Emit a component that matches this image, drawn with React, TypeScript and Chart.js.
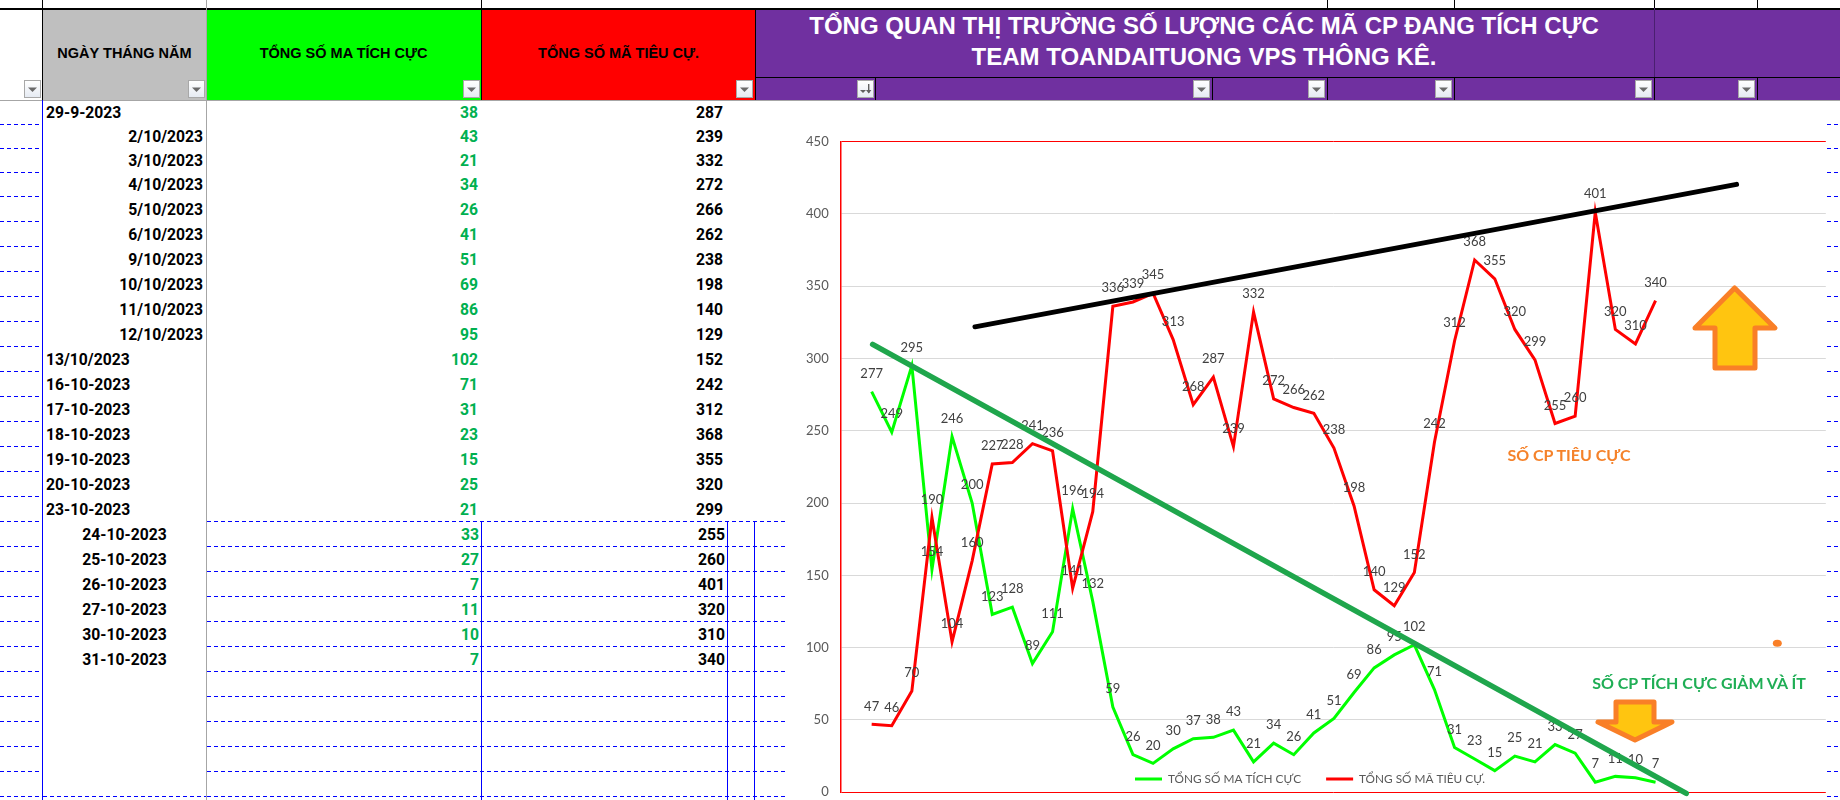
import React, { useEffect, useRef } from "react";
import { Chart, registerables } from "chart.js";

Chart.register(...registerables);

const positiveLabel = "TỔNG SỐ MA TÍCH CỰC";
const negativeLabel = "TỔNG SỐ MÃ TIÊU CỰ.";
const positiveValues = [277, 249, 295, 154, 246, 200, 123, 128, 89, 111, 196, 132, 59, 26, 20, 30, 37, 38, 43, 21, 34, 26, 41, 51, 69, 86, 95, 102, 71, 31, 23, 15, 25, 21, 33, 27, 7, 11, 10, 7];
const negativeValues = [47, 46, 70, 190, 104, 160, 227, 228, 241, 236, 141, 194, 336, 339, 345, 313, 268, 287, 239, 332, 272, 266, 262, 238, 198, 140, 129, 152, 242, 312, 368, 355, 320, 299, 255, 260, 401, 320, 310, 340];
const resistanceLine = [{ x: 5.14, y: 321.8 }, { x: 43.03, y: 420.3 }];
const declineLine = [{ x: 0.05, y: 309.7 }, { x: 40.53, y: -0.7 }];
const yTicksMax = 450;

// Table rows: the visible sheet shows the last 23 points of the series
const rowDates = ["29-9-2023", "2/10/2023", "3/10/2023", "4/10/2023", "5/10/2023", "6/10/2023", "9/10/2023", "10/10/2023", "11/10/2023", "12/10/2023", "13/10/2023", "16-10-2023", "17-10-2023", "18-10-2023", "19-10-2023", "20-10-2023", "23-10-2023", "24-10-2023", "25-10-2023", "26-10-2023", "27-10-2023", "30-10-2023", "31-10-2023"];
const rowDateAlign = ["l", "r", "r", "r", "r", "r", "r", "r", "r", "r", "l", "l", "l", "l", "l", "l", "l", "c", "c", "c", "c", "c", "c"];
const rowPositive = [38, 43, 21, 34, 26, 41, 51, 69, 86, 95, 102, 71, 31, 23, 15, 25, 21, 33, 27, 7, 11, 10, 7];
const rowNegative = [287, 239, 332, 272, 266, 262, 238, 198, 140, 129, 152, 242, 312, 368, 355, 320, 299, 255, 260, 401, 320, 310, 340];
const rowLines = [124.5, 148.5, 172.5, 196.5, 221.5, 246.5, 271.5, 296.5, 321.5, 346.5, 371.5, 396.5, 421.5, 446.5, 471.5, 496.5, 521.5, 546.5, 571.5, 596.5, 621.5, 646.5, 671.5, 696.5, 721.5, 746.5, 771.5, 796.5];

const titleLines = ["TỔNG QUAN THỊ TRƯỜNG SỐ LƯỢNG CÁC MÃ CP ĐANG TÍCH CỰC", "TEAM TOANDAITUONG VPS THÔNG KÊ."];
const noteNegative = "SỐ CP TIÊU CỰC";
const notePositive = "SỐ CP TÍCH CỰC GIẢM VÀ ÍT";

const filterButtons = [23.5, 188, 463, 736, 857, 1192.5, 1308, 1435, 1635, 1738];
const SORTED_BUTTON = 857;

const sheetFont = '"Liberation Sans", Arial, sans-serif';
const rowFont = 'Roboto, "Liberation Sans", sans-serif';
const chartFont = 'Lato, "Noto Sans", sans-serif';
const BLUE = "#0000ff";

function box(l: number, t: number, w: number, h: number, bg: string): React.CSSProperties {
  return { position: "absolute", left: l, top: t, width: w, height: h, background: bg };
}

function DashedLine({ l, r, y }: { l: number; r: number; y: number }) {
  return (
    <div
      style={{
        position: "absolute",
        left: l,
        top: Math.floor(y),
        width: r - l,
        height: 1,
        background: `repeating-linear-gradient(90deg, ${BLUE} 0 4px, transparent 4px 7px)`,
      }}
    />
  );
}

function FilterButton({ x }: { x: number }) {
  const sorted = x === SORTED_BUTTON;
  return (
    <div
      style={{
        position: "absolute",
        left: x,
        top: 80,
        width: 17,
        height: 18,
        boxSizing: "border-box",
        border: "1px solid #a8a8a8",
        background: "linear-gradient(#ffffff, #e6ebf3)",
      }}
    >
      <svg width="15" height="16" style={{ position: "absolute", left: 0, top: 0 }}>
        {sorted ? (
          <g fill="#606060">
            <path d="M2 9 H8 L5 12 Z" />
            <rect x="10" y="3" width="1.4" height="9" />
            <path d="M8 9 H13.4 L10.7 12.5 Z" />
          </g>
        ) : (
          <path d="M3 6.5 H12 L7.5 11 Z" fill="#6a6a6a" />
        )}
      </svg>
    </div>
  );
}

function Arrow({ points }: { points: string }) {
  return <polygon points={points} fill="#FFC510" stroke="#F97F27" strokeWidth={5} strokeLinejoin="round" />;
}

const dataLabelsPlugin = {
  id: "pointValueLabels",
  afterDatasetDraw(chart: any, args: any) {
    if (args.index !== 1) return;
    const { ctx } = chart;
    ctx.save();
    ctx.font = `13px ${chartFont}`;
    ctx.fillStyle = "#404040";
    ctx.textAlign = "center";
    ctx.textBaseline = "middle";
    [0, 1].forEach((ds) => {
      const values = chart.data.datasets[ds].data;
      chart.getDatasetMeta(ds).data.forEach((pt: any, i: number) => {
        ctx.fillText(String(values[i].y), pt.x, pt.y - 18);
      });
    });
    ctx.restore();
  },
};

const legendPlacementPlugin = {
  id: "legendInsidePlot",
  beforeLayout(chart: any) {
    const legend = chart.legend;
    if (legend && !legend.__patched) {
      const fit = legend.fit;
      legend.fit = function () {
        fit.call(this);
        this.height = 0;
      };
      legend.__patched = true;
    }
  },
  afterLayout(chart: any) {
    const legend = chart.legend;
    const pad = legend.options.labels.padding;
    legend.left = 345 - pad;
    legend.right = legend.left + 600;
    legend.top = 669 - pad - 6;
    legend.bottom = legend.top + 60;
  },
};

function LineChart() {
  const ref = useRef<HTMLCanvasElement | null>(null);
  useEffect(() => {
    if (!ref.current) return;
    const chart = new Chart(ref.current, {
      type: "line",
      data: {
        datasets: [
          {
            label: positiveLabel,
            data: positiveValues.map((y, x) => ({ x, y })),
            borderColor: "#00ff00",
            backgroundColor: "#00ff00",
            borderWidth: 3,
            pointRadius: 0,
            tension: 0,
            order: 2,
          },
          {
            label: negativeLabel,
            data: negativeValues.map((y, x) => ({ x, y })),
            borderColor: "#ff0000",
            backgroundColor: "#ff0000",
            borderWidth: 3,
            pointRadius: 0,
            tension: 0,
            order: 1,
          },
          {
            label: "resistance",
            data: resistanceLine,
            borderColor: "#000000",
            borderWidth: 5,
            pointRadius: 0,
            borderCapStyle: "round",
            clip: false,
            order: 0,
          },
          {
            label: "decline",
            data: declineLine,
            borderColor: "#1fa64c",
            borderWidth: 5.5,
            pointRadius: 0,
            borderCapStyle: "round",
            clip: false,
            order: 0,
          },
        ],
      } as any,
      options: {
        animation: false,
        responsive: false,
        maintainAspectRatio: false,
        parsing: false,
        normalized: true,
        layout: { padding: { top: 31.4, bottom: 7.7, left: 0, right: 14.2 } },
        scales: {
          x: { type: "linear", display: false, min: -1.54, max: 47.47, grid: { display: false } },
          y: {
            min: 0,
            max: yTicksMax,
            afterFit: (s: any) => {
              s.width = 50.7;
              s.paddingTop = 0;
              s.paddingBottom = 0;
            },
            ticks: {
              stepSize: 50,
              padding: 12,
              color: "#595959",
              font: { family: chartFont, size: 13 },
            },
            border: { color: "#ff0000", width: 1.5 },
            grid: {
              drawTicks: false,
              lineWidth: 1,
              color: (c: any) => (c.tick.value === 0 || c.tick.value === yTicksMax ? "#ff0000" : "#d9d9d9"),
            },
          },
        },
        plugins: {
          tooltip: { enabled: false },
          title: { display: false },
          legend: {
            display: true,
            position: "bottom",
            align: "start",
            labels: {
              boxWidth: 27,
              boxHeight: 0,
              padding: 25,
              color: "#595959",
              font: { family: chartFont, size: 11.8 },
              filter: (item: any) => item.datasetIndex < 2,
              sort: (a: any, b: any) => a.datasetIndex - b.datasetIndex,
            },
          },
        },
      } as any,
      plugins: [dataLabelsPlugin, legendPlacementPlugin],
    });
    return () => chart.destroy();
  }, []);
  return <canvas ref={ref} width={1050} height={690} style={{ position: "absolute", left: 790, top: 110, width: 1050, height: 690 }} />;
}

const rowTop = (i: number) => (i === 0 ? 100.5 : rowLines[i - 1]);

export default function App() {
  const headerCell = (cx: number): React.CSSProperties => ({
    position: "absolute",
    left: cx - 120,
    width: 240,
    top: 45,
    textAlign: "center",
    font: `bold 14.5px ${sheetFont}`,
    color: "#000",
    whiteSpace: "nowrap",
  });
  const cell = (i: number): React.CSSProperties => ({
    position: "absolute",
    top: rowTop(i) + 0.7,
    height: rowLines[i] - rowTop(i),
    font: `bold 15.7px ${rowFont}`,
    lineHeight: `${rowLines[i] - rowTop(i)}px`,
    whiteSpace: "nowrap",
  });
  const lowerRow = (i: number) => i >= 17;

  return (
    <div style={{ position: "fixed", left: 0, top: 0, width: 1840, height: 800, overflow: "hidden", background: "#fff" }}>
      {/* header fills */}
      <div style={box(42, 8, 165, 92, "#bfbfbf")} />
      <div style={box(207, 8, 275, 92, "#00ff00")} />
      <div style={box(482, 8, 273, 92, "#ff0000")} />
      <div style={box(755, 8, 1085, 92, "#7030a0")} />
      {/* header rules */}
      <div style={box(0, 7.5, 1840, 2, "#000")} />
      <div style={box(755, 76.5, 1085, 1.5, "#000")} />
      <div style={box(0, 99.5, 1840, 1.5, "#a6a6a6")} />
      <div style={box(42, 0, 1.2, 100, "#000")} />
      <div style={box(206, 0, 1.2, 800, "#a6a6a6")} />
      <div style={box(481, 0, 1.2, 100, "#000")} />
      <div style={box(754.5, 8, 1.2, 92, "#000")} />
      <div style={box(1653.5, 8, 1, 70, "#4a2070")} />
      {[875, 1211.5, 1327, 1453.5, 1653.5, 1756.5].map((x) => (
        <div key={x} style={box(x, 77, 1.2, 23, "#000")} />
      ))}
      {[1327, 1453.5, 1653.5, 1756.5].map((x) => (
        <div key={x} style={box(x, 0, 1.2, 8, "#000")} />
      ))}
      {/* header texts */}
      <div style={headerCell(124.5)}>NGÀY THÁNG NĂM</div>
      <div style={headerCell(343.6)}>{positiveLabel}</div>
      <div style={headerCell(618.6)}>{negativeLabel}</div>
      {titleLines.map((t, i) => (
        <div
          key={t}
          style={{
            position: "absolute",
            left: 755,
            width: 898,
            top: i === 0 ? 12 : 43,
            textAlign: "center",
            color: "#fff",
            font: `bold 24px ${sheetFont}`,
            whiteSpace: "nowrap",
          }}
        >
          {t}
        </div>
      ))}
      {filterButtons.map((x) => (
        <FilterButton key={x} x={x} />
      ))}

      {/* grid of the sheet */}
      <div style={box(42, 100, 1.2, 700, BLUE)} />
      {[481, 727, 754].map((x) => (
        <div key={x} style={box(x, 521.5, 1, 279, BLUE)} />
      ))}
      {rowLines.map((y) => (
        <React.Fragment key={y}>
          <DashedLine l={0} r={41} y={y} />
          {y > 520 && <DashedLine l={207} r={788} y={y} />}
          <DashedLine l={1827} r={1840} y={y} />
        </React.Fragment>
      ))}
      <DashedLine l={43} r={206} y={796.5} />

      {/* rows */}
      {rowDates.map((d, i) => {
        const a = rowDateAlign[i];
        const pos: React.CSSProperties =
          a === "l"
            ? { left: 46 }
            : a === "r"
            ? { right: 1840 - 203 }
            : { left: 42, width: 165, textAlign: "center" };
        return (
          <div key={d} style={{ ...cell(i), ...pos, color: "#000" }}>
            {d}
          </div>
        );
      })}
      {rowPositive.map((v, i) => (
        <div key={i} style={{ ...cell(i), right: 1840 - (lowerRow(i) ? 479 : 478), color: "#00b050" }}>
          {v}
        </div>
      ))}
      {rowNegative.map((v, i) => (
        <div key={i} style={{ ...cell(i), right: 1840 - (lowerRow(i) ? 725 : 723), color: "#000" }}>
          {v}
        </div>
      ))}

      <LineChart />

      {/* drawn annotations */}
      <svg width={1840} height={800} style={{ position: "absolute", left: 0, top: 0, pointerEvents: "none" }}>
        <Arrow points="1734.6,288 1775,328 1755,328 1755,368 1715,368 1715,328 1695,328" />
        <Arrow points="1616,702 1654,702 1654,722 1672,722 1635,740 1598,722 1616,722" />
        <ellipse cx={1777.3} cy={643.3} rx={4.5} ry={3.5} fill="#F97F27" />
      </svg>
      <div style={{ position: "absolute", left: 1469, width: 200, top: 445, textAlign: "center", color: "#F5822A", font: `bold 16px ${chartFont}`, whiteSpace: "nowrap" }}>
        {noteNegative}
      </div>
      <div style={{ position: "absolute", left: 1549, width: 300, top: 673, textAlign: "center", color: "#1fae55", font: `bold 16px ${chartFont}`, whiteSpace: "nowrap" }}>
        {notePositive}
      </div>
    </div>
  );
}
